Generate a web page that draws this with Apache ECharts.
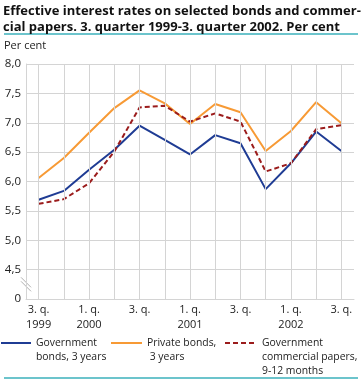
<!DOCTYPE html>
<html>
<head>
<meta charset="utf-8">
<script src="https://cdn.jsdelivr.net/npm/echarts@6/dist/echarts.min.js"></script>
<style>
html,body{margin:0;padding:0;background:#fff;}
#chart{width:361px;height:382px;}
</style>
</head>
<body>
<div id="chart"></div>
<script>
var categories = ['3. q. 1999','4. q. 1999','1. q. 2000','2. q. 2000','3. q. 2000','4. q. 2000','1. q. 2001','2. q. 2001','3. q. 2001','4. q. 2001','1. q. 2002','2. q. 2002','3. q. 2002'];
var xTickLabels = ['3. q.\n1999','','1. q.\n2000','','3. q.','','1. q.\n2001','','3. q.','','1. q.\n2002','','3. q.'];
var yTickLabels = ['0','4,5','5,0','5,5','6,0','6,5','7,0','7,5','8,0'];
var govBonds = [5.69,5.84,6.20,6.54,6.95,6.71,6.46,6.79,6.65,5.87,6.31,6.85,6.52];
var privBonds = [6.06,6.40,6.83,7.25,7.55,7.33,6.98,7.32,7.18,6.52,6.86,7.35,6.99];
var govPapers = [5.62,5.70,5.97,6.51,7.26,7.29,7.02,7.16,7.02,6.17,6.31,6.89,6.96];
var seriesNames = ['Government\nbonds, 3 years','Private bonds,\n 3 years','Government\ncommercial papers,\n9-12 months'];

var chart = echarts.init(document.getElementById('chart'), null, {renderer:'canvas'});
var FONT = 'Open Sans';
var gridColor = '#d4d4d4';
var teal = '#3bb0bb';
var GRID_LEFT = 26;

function legendCfg(idx, left, top, w) {
  var nLines = seriesNames[idx].split('\n').length;
  var prefix = new Array(nLines).join('\n');
  return {left: left, top: top, padding: 0, itemWidth: w, itemHeight: 10, itemGap: 0,
    itemStyle: {opacity: 0},
    data: [seriesNames[idx]],
    formatter: function (n) { return prefix + n; },
    textStyle: {fontFamily: FONT, fontSize: 10.4, lineHeight: 14, color: '#222'}};
}

var baseGraphic = [
  {type: 'text', left: 4, top: 40, style: {text: 'Per cent', fontFamily: FONT, fontSize: 11, fill: '#222'}},
  {type: 'line', shape: {x1: 4, y1: 34, x2: 358, y2: 34}, style: {stroke: teal, lineWidth: 1.5}},
  {type: 'line', shape: {x1: 4, y1: 378, x2: 358, y2: 378}, style: {stroke: teal, lineWidth: 1.5}}
];

var option = {
  animation: false,
  textStyle: {fontFamily: FONT},
  title: {
    text: 'Effective interest rates on selected bonds and commer-\ncial papers. 3. quarter 1999-3. quarter 2002. Per cent',
    left: 3, top: 3, padding: 0,
    textStyle: {fontFamily: FONT, fontWeight: 'bold', fontSize: 13, lineHeight: 16, color: '#111'}
  },
  grid: {left: GRID_LEFT, right: 7, top: 64, bottom: 83, containLabel: false},
  legend: [
    legendCfg(0, 0, 322, 30),
    legendCfg(1, 110, 322, 31),
    legendCfg(2, 224, 308, 32)
  ],
  xAxis: {
    type: 'category', data: categories, boundaryGap: true,
    axisLine: {show: true, lineStyle: {color: gridColor, width: 1}},
    axisTick: {show: false},
    splitLine: {show: false},
    axisLabel: {interval: 0, margin: 3, fontSize: 11, lineHeight: 15, color: '#222', fontFamily: FONT,
      formatter: function (v, i) { return xTickLabels[i]; }}
  },
  yAxis: {
    type: 'value', min: 4, max: 8, interval: 0.5,
    axisLine: {show: true, lineStyle: {color: gridColor, width: 1}},
    axisTick: {show: false},
    splitLine: {show: true, lineStyle: {color: gridColor, width: 1}},
    axisLabel: {margin: 5, fontSize: 11.5, color: '#222', fontFamily: FONT,
      formatter: function (v) { return yTickLabels[Math.round((v - 4) / 0.5)]; }}
  },
  graphic: {elements: baseGraphic},
  series: [
    {name: '_grid', type: 'line', data: [], z: 1, silent: true,
     markLine: {silent: true, symbol: ['none','none'], label: {show: false},
       lineStyle: {color: gridColor, width: 1, type: 'solid'},
       data: categories.map(function (c) { return {xAxis: c}; })}},
    {name: seriesNames[0], type: 'line', data: govBonds, symbol: 'none', z: 3,
     lineStyle: {color: '#1f3c94', width: 2}, itemStyle: {color: '#1f3c94'}},
    {name: seriesNames[1], type: 'line', data: privBonds, symbol: 'none', z: 3,
     lineStyle: {color: '#f79a35', width: 2}, itemStyle: {color: '#f79a35'}},
    {name: seriesNames[2], type: 'line', data: govPapers, symbol: 'none', z: 4,
     lineStyle: {color: '#9b1c1c', width: 2, type: [5, 3]}, itemStyle: {color: '#9b1c1c'}}
  ]
};
chart.setOption(option);

// axis break symbol between 4,0 and 4,5
var by = chart.convertToPixel({gridIndex: 0}, [0, 4.25]);
by = (by && isFinite(by[1])) ? by[1] : 284;
var ax = GRID_LEFT;
chart.setOption({graphic: {elements: baseGraphic.concat([
  {type: 'group', z: 100, children: [
    {type: 'rect', shape: {x: ax - 2, y: by - 6, width: 4, height: 12}, style: {fill: '#ffffff'}},
    {type: 'line', shape: {x1: ax - 5, y1: by - 7, x2: ax + 5, y2: by + 3}, style: {stroke: '#b0b0b0', lineWidth: 1}},
    {type: 'line', shape: {x1: ax - 5, y1: by - 3, x2: ax + 5, y2: by + 7}, style: {stroke: '#b0b0b0', lineWidth: 1}}
  ]}
])}});
</script>
</body>
</html>
